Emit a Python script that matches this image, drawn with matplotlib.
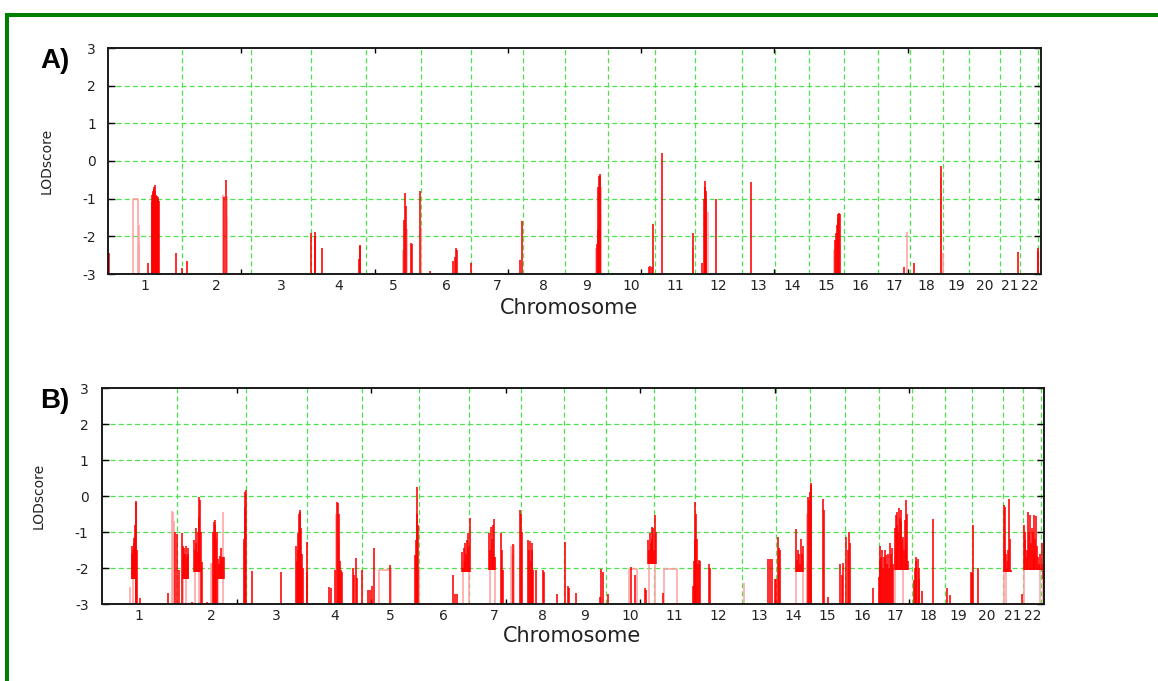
import matplotlib
matplotlib.use('Agg')
import matplotlib.pyplot as plt
from matplotlib.lines import Line2D

# ---------------- data ----------------
chromosomes = [str(i) for i in range(1, 23)]
chrom_end_cM = [277, 536, 762, 967, 1176, 1363, 1555, 1715, 1874, 2051, 2203,
                2378, 2503, 2630, 2760, 2888, 3010, 3132, 3231, 3346, 3423, 3490]
x_range = (0, 3500)
x_major_ticks = [500, 1000, 1500, 2000, 2500, 3000]
y_ticks = [-3, -2, -1, 0, 1, 2, 3]
y_tick_labels = ['-3', '-2', '-1', '0', '1', '2', '3']

# Panel A: (position cM, LOD) of trace excursions
a_peaks = [(3, -2.45), (149, -2.72), (164, -1.1), (166, -0.9), (168, -0.85), (170, -0.8),
           (172, -0.75), (174, -0.7), (176, -0.65), (178, -0.8), (180, -0.9), (182, -0.92),
           (184, -0.95), (186, -0.95), (188, -1.0), (190, -1.05), (254, -2.45), (279, -2.85),
           (295, -2.65),
           (434, -0.95), (441, -0.5),
           (760, -1.92), (776, -1.88), (778, -2.0), (801, -2.32),
           (940, -2.6), (945, -2.25), (947, -2.22),
           (1112, -1.57), (1116, -0.84), (1118, -1.2), (1138, -2.19), (1141, -2.2),
           (1170, -0.8), (1208, -2.91),
           (1293, -2.65), (1300, -2.55), (1305, -2.32), (1310, -2.35), (1360, -2.71),
           (1545, -2.63), (1554, -1.58),
           (1834, -2.2), (1837, -1.83), (1840, -0.7), (1842, -0.4), (1844, -0.35), (1846, -0.4),
           (2031, -2.81), (2035, -2.8), (2039, -2.81), (2045, -1.68),
           (2077, 0.2), (2195, -1.9),
           (2229, -2.72), (2236, -1.0), (2238, -0.7), (2240, -0.53), (2242, -0.8), (2244, -1.0),
           (2281, -1.0), (2411, -0.57),
           (2727, -2.1), (2730, -1.9), (2733, -1.7), (2737, -1.5), (2740, -1.42), (2742, -1.38),
           (2745, -1.4),
           (2986, -2.82), (3025, -2.72), (3123, -0.12), (3412, -2.41), (3488, -2.32), (3490, -2.4)]
a_faint = [(116, -1.7), (118, -2.2), (430, -0.9), (445, -1.5), (1108, -2.36), (1120, -1.8),
           (1174, -1.74), (1830, -2.3), (1848, -0.7), (1850, -1.4), (2193, -2.3), (2250, -1.35),
           (2722, -2.35), (2996, -1.88), (3126, -0.42), (3131, -2.43)]
a_plateaus = [(95, 114, -1.0), (430, 445, -0.95)]
a_bands = []

# Panel B
b_peaks = [(110, -1.4), (112, -1.6), (114, -1.69), (116, -1.5), (118, -1.18), (120, -1.3),
           (122, -1.15), (124, -0.8), (126, -0.14), (128, -0.2), (131, -1.5), (141, -2.84),
           (244, -2.7), (272, -0.99), (277, -1.05), (286, -2.06), (296, -1.04), (300, -1.4),
           (303, -1.6), (306, -1.45), (309, -1.6), (312, -1.38), (315, -1.7), (318, -1.45),
           (321, -1.6), (333, -2.94), (342, -1.22), (345, -1.5), (348, -0.9), (351, -1.3),
           (354, -1.55), (357, -1.0), (360, -0.57), (362, -0.02), (364, -0.1), (367, -1.0),
           (370, -1.82), (389, -2.94), (413, -1.0), (415, -0.71), (418, -0.8), (421, -0.66),
           (424, -1.2), (428, -1.0), (432, -1.76), (435, -1.9), (438, -1.67), (441, -1.8),
           (444, -1.45), (447, -1.7), (451, -1.7), (453, -1.7),
           (529, -1.2), (531, -0.3), (533, 0.12), (535, 0.17), (558, -2.07), (665, -2.1),
           (721, -1.4), (724, -1.8), (727, -1.04), (730, -1.5), (733, -0.5), (735, -0.39),
           (737, -0.45), (740, -0.9), (744, -1.6), (748, -2.0), (760, -1.27), (763, -2.1),
           (845, -2.52), (850, -2.55), (866, -2.06), (873, -0.16), (876, -0.2), (879, -0.5),
           (884, -1.8), (888, -2.05), (892, -2.1), (934, -2.0), (938, -2.2), (942, -1.73),
           (946, -2.28), (967, -2.06),
           (989, -2.6), (995, -2.6), (1002, -2.5), (1010, -1.45), (1070, -1.92),
           (1163, -1.64), (1166, -1.22), (1169, -0.5), (1171, 0.26), (1174, -0.8),
           (1303, -2.19), (1312, -2.72), (1318, -2.72), (1339, -1.55), (1342, -2.0),
           (1345, -1.45), (1348, -1.8), (1350, -1.3), (1353, -1.6), (1356, -1.22), (1359, -1.5),
           (1361, -1.04), (1364, -1.4), (1367, -0.62),
           (1439, -1.04), (1442, -1.5), (1445, -0.85), (1448, -1.2), (1451, -0.8), (1454, -1.6),
           (1457, -0.65), (1460, -1.7), (1481, -1.04), (1485, -1.5), (1489, -2.05),
           (1527, -1.32), (1553, -0.39), (1556, -0.5), (1559, -1.0),
           (1584, -1.22), (1587, -1.5), (1590, -1.25), (1593, -1.8), (1596, -1.3), (1599, -1.5),
           (1602, -2.05), (1614, -2.05), (1640, -2.05), (1643, -2.1), (1689, -2.72),
           (1720, -1.27), (1731, -2.5), (1735, -2.55), (1760, -2.7),
           (1852, -2.8), (1855, -2.04), (1860, -2.1), (1879, -2.72),
           (1967, -1.97), (1980, -2.2), (2017, -2.55), (2021, -2.6), (2030, -1.22), (2033, -1.5),
           (2036, -1.04), (2039, -1.3), (2042, -0.85), (2045, -1.2), (2048, -0.9), (2052, -1.5),
           (2056, -0.53), (2060, -1.0),
           (2083, -2.7), (2197, -2.5), (2200, -1.8), (2203, -1.22), (2205, -0.16), (2208, -0.5),
           (2211, -1.2), (2214, -1.9), (2217, -1.78), (2222, -1.8), (2256, -1.89), (2258, -2.0),
           (2476, -1.76), (2482, -1.75), (2488, -1.76), (2500, -2.3), (2506, -2.3), (2510, -1.13),
           (2514, -1.45), (2518, -1.5),
           (2578, -0.92), (2582, -1.78), (2586, -1.5), (2590, -1.6), (2594, -1.9), (2598, -1.19),
           (2602, -1.6), (2606, -1.4), (2610, -2.1), (2624, -0.02), (2627, -0.1), (2630, 0.12),
           (2633, 0.37), (2636, 0.3),
           (2680, -0.09), (2683, -0.4), (2696, -2.8), (2742, -1.89), (2748, -2.2), (2752, -1.87),
           (2766, -1.13), (2770, -1.5), (2774, -1.0), (2778, -1.3), (2865, -2.55),
           (2886, -2.24), (2889, -1.8), (2891, -1.4), (2894, -1.7), (2897, -1.5), (2900, -2.0),
           (2904, -1.7), (2908, -1.5), (2912, -1.65), (2916, -1.9), (2921, -1.6), (2924, -2.0),
           (2927, -1.3), (2930, -1.6), (2934, -1.45), (2938, -1.9), (2946, -0.9), (2949, -0.53),
           (2952, -0.8), (2955, -0.44), (2958, -1.0), (2961, -0.34), (2964, -0.6), (2967, -0.4),
           (2970, -0.7), (2973, -1.2), (2977, -1.13), (2980, -1.5), (2983, -0.66), (2986, -1.3),
           (2989, -0.11), (2992, -0.5), (2995, -1.8),
           (3017, -2.34), (3020, -2.0), (3023, -1.69), (3026, -1.8), (3030, -1.75), (3034, -2.0),
           (3037, -2.3), (3047, -2.64), (3086, -0.64), (3138, -2.55), (3150, -2.75),
           (3228, -2.1), (3232, -2.15), (3237, -0.8), (3255, -2.0),
           (3351, -0.25), (3354, -1.5), (3356, -0.3), (3358, -1.6), (3361, -2.0), (3365, -1.8),
           (3368, -1.5), (3371, -0.09), (3374, -1.2), (3376, -2.05),
           (3419, -2.72), (3425, -0.8), (3428, -1.22), (3431, -1.0), (3435, -1.5), (3438, -1.7),
           (3441, -0.44), (3444, -1.0), (3447, -0.53), (3450, -1.3), (3454, -0.9), (3458, -1.0),
           (3461, -1.5), (3464, -0.53), (3467, -1.2), (3470, -0.55), (3474, -1.4), (3478, -1.69),
           (3482, -1.9), (3485, -1.6), (3488, -2.0), (3491, -1.31), (3494, -1.9), (3497, -2.3)]
b_faint = [(104, -2.52), (114, -2.2), (259, -0.41), (262, -0.45), (266, -0.7), (300, -1.5),
           (312, -1.6), (345, -1.5), (360, -1.0), (404, -1.87), (409, -1.87), (415, -1.2),
           (432, -1.9), (449, -0.44), (527, -1.3), (727, -1.8), (870, -0.5), (882, -1.2),
           (1177, -2.0), (1340, -1.8), (1365, -1.5), (1440, -1.6), (1459, -1.7), (1519, -1.4),
           (1523, -1.6), (1530, -1.35), (2031, -1.5), (2055, -1.2), (2385, -2.43), (2580, -1.5),
           (2606, -1.8), (2618, -1.8), (2621, -0.5), (2946, -1.5), (2975, -1.6), (3352, -1.2),
           (3360, -1.8), (3424, -1.8), (3484, -1.9), (3496, -2.3)]
b_plateaus = [(1030, 1072, -2.06), (2088, 2135, -2.03), (1957, 1986, -2.02)]
b_bands = [(108, 125, -2.3), (298, 322, -2.3), (340, 366, -2.1), (430, 454, -2.3),
           (1339, 1367, -2.1), (1439, 1460, -2.05), (2030, 2060, -1.9), (2578, 2612, -2.1),
           (2944, 2995, -2.05), (3350, 3377, -2.1), (3424, 3498, -2.05)]

# ---------------- style ----------------
plt.rcParams['font.family'] = ['DejaVu Sans']
W, H = 1158, 681
fig = plt.figure(figsize=(W / 100, H / 100), dpi=100)

RED = '#ff0000'
PINK = '#ff9f9f'
GRID = '#4fe24f'
BOTTOM = -3.4


def make_panel(rect, peaks, faint, plateaus, bands, ypad, label_xy, ylab_xy):
    ax = fig.add_axes(rect)
    ax.set_xlim(*x_range)
    ax.set_ylim(-3, 3)
    # gridlines at chromosome boundaries and integer LOD values
    for e in chrom_end_cM:
        ax.axvline(e, color=GRID, lw=0.9, dashes=(4, 2.5), zorder=1)
    for yv in y_ticks[1:-1]:
        ax.axhline(yv, color=GRID, lw=0.9, dashes=(4, 2.5), zorder=1)
    # faint (anti-aliased looking) excursions
    if faint:
        fx, fy = zip(*faint)
        ax.vlines(fx, BOTTOM, fy, color=PINK, lw=1.1, zorder=2)
    for s, e, l in plateaus:
        ax.plot([s, s, e, e], [BOTTOM, l, l, BOTTOM], color=PINK, lw=1.1, zorder=2)
    px, py = zip(*peaks)
    floors = []
    for p in px:
        f = BOTTOM
        for s, e, v in bands:
            if s <= p <= e:
                f = v
        floors.append(f)
    ax.vlines(px, floors, py, color=RED, lw=1.15, zorder=3)

    # ticks
    ax.set_xticks(x_major_ticks)
    mids = [((chrom_end_cM[i - 1] if i else 0) + chrom_end_cM[i]) / 2 for i in range(len(chrom_end_cM))]
    ax.set_xticks(mids, labels=chromosomes, minor=True)
    ax.tick_params(axis='x', which='major', direction='in', top=True, bottom=True,
                   length=3.3, width=1.0, labelbottom=False)
    ax.tick_params(axis='x', which='minor', length=0, labelsize=10, pad=3.5, labelcolor='#222222')
    ax.set_yticks(y_ticks, labels=y_tick_labels)
    ax.tick_params(axis='y', direction='in', left=True, right=True, length=5, width=1.0,
                   labelsize=10, pad=ypad, labelcolor='#222222')
    for sp in ax.spines.values():
        sp.set_linewidth(1.4)
        sp.set_color('#1a1a1a')
        sp.set_zorder(5)
    ax.set_xlabel('Chromosome', fontsize=15, color='#222222')
    ax.xaxis.set_label_coords(*label_xy)
    ax.xaxis.label.set_verticalalignment('center')
    ax.set_ylabel('LODscore', fontsize=10, color='#222222')
    ax.yaxis.set_label_coords(*ylab_xy)
    ax.yaxis.label.set_verticalalignment('center')
    return ax


axA = make_panel([108 / W, 1 - 274 / H, 933 / W, 226 / H], a_peaks, a_faint, a_plateaus, a_bands,
                 8.6, (0.494, -0.150), (-0.0654, 0.5))
axB = make_panel([102 / W, 1 - 604 / H, 942 / W, 216 / H], b_peaks, b_faint, b_plateaus, b_bands,
                 9.7, (0.499, -0.148), (-0.0669, 0.5))

fig.text(40 / W, 1 - 61 / H, 'A)', ha='left', va='center', fontsize=20, fontweight='bold',
         family='Liberation Sans')
fig.text(40 / W, 1 - 401 / H, 'B)', ha='left', va='center', fontsize=20, fontweight='bold',
         family='Liberation Sans')

# green frame
fig.add_artist(Line2D([5 / W, 1], [1 - 14.7 / H, 1 - 14.7 / H], transform=fig.transFigure,
                      color='#007f00', lw=2.9, solid_capstyle='butt'))
fig.add_artist(Line2D([7 / W, 7 / W], [1 - 13 / H, 0], transform=fig.transFigure,
                      color='#007f00', lw=2.9, solid_capstyle='butt'))

fig.savefig('out.png', dpi=100)
